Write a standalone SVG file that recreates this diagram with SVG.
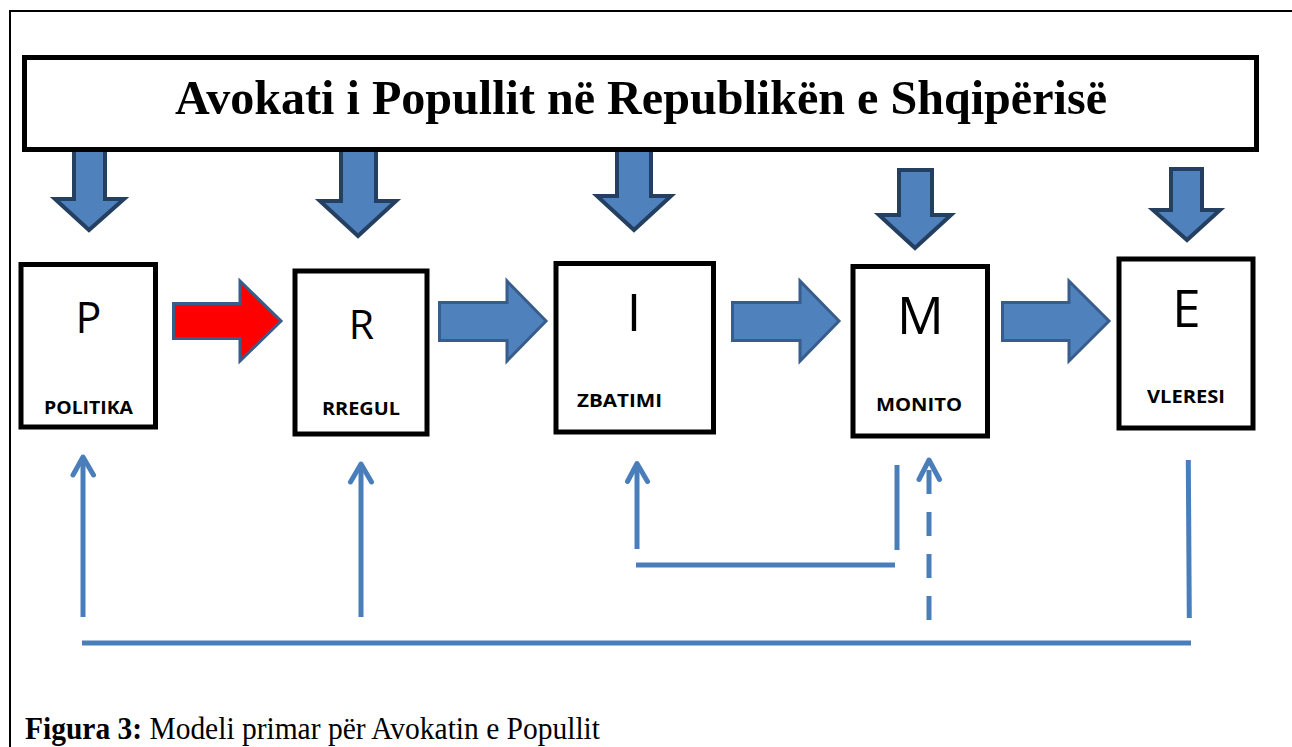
<svg xmlns="http://www.w3.org/2000/svg" width="1292" height="747" viewBox="0 0 1292 747">
<style>
.frame{fill:none;stroke:#000;stroke-width:2}
.box{fill:#fff;stroke:#000;stroke-width:5}
.down{fill:#4f81bd;stroke:#243f60;stroke-width:4;stroke-linejoin:miter}
.right{fill:#4f81bd;stroke:#385d8a;stroke-width:3}
.red{fill:#ff0000;stroke:#385d8a;stroke-width:3}
.fb{fill:none;stroke:#4a7ebb;stroke-width:5;stroke-linecap:butt}
.head{fill:none;stroke:#4a7ebb;stroke-width:5;stroke-linecap:round;stroke-linejoin:round}
.big{font-family:"Open Sans","Liberation Sans",sans-serif;fill:#000;text-anchor:middle}
.lbl{font-family:"Open Sans","Liberation Sans",sans-serif;font-weight:bold;fill:#000;font-size:18px}
.title{font-family:"Liberation Serif","Times New Roman",serif;font-weight:bold;font-size:48px;fill:#000}
.cap{font-family:"Liberation Serif","Times New Roman",serif;font-size:31px;fill:#000}
</style>
<rect width="1292" height="747" fill="#fff"/>
<path class="frame" d="M10,747 V11 H1292"/>

<g id="down-arrows">
<polygon class="down" points="74,150 105,150 105,199 124,199 89,230 55,199 74,199"/>
<polygon class="down" points="341,150 376,150 376,201 396,201 358,236 320,201 341,201"/>
<polygon class="down" points="617,150 651,150 651,196 671,196 634,230 597,196 617,196"/>
<polygon class="down" points="899,170 932,170 932,215 951,215 915,248 879,215 899,215"/>
<polygon class="down" points="1171,169 1202,169 1202,210 1220,210 1187,240 1153,210 1171,210"/>
</g>

<g id="title">
<rect class="box" x="24.5" y="57.5" width="1232" height="92"/>
<text class="title" x="175" y="114" textLength="932" lengthAdjust="spacingAndGlyphs">Avokati i Popullit në Republikën e Shqipërisë</text>
</g>

<g id="node-P">
<rect class="box" x="21" y="264.5" width="134.5" height="162.5"/>
<text class="big" x="88.5" y="333" font-size="43">P</text>
<text class="lbl" x="44" y="414" textLength="89" lengthAdjust="spacingAndGlyphs">POLITIKA</text>
</g>
<g id="node-R">
<rect class="box" x="295" y="271" width="132" height="163"/>
<text class="big" x="361.5" y="339" font-size="41">R</text>
<text class="lbl" x="322" y="415" textLength="78" lengthAdjust="spacingAndGlyphs">RREGUL</text>
</g>
<g id="node-I">
<rect class="box" x="556" y="263.5" width="157.5" height="168.5"/>
<text class="big" x="634" y="331" font-size="52">I</text>
<text class="lbl" x="577" y="407" textLength="85" lengthAdjust="spacingAndGlyphs">ZBATIMI</text>
</g>
<g id="node-M">
<rect class="box" x="853" y="266.5" width="134.5" height="169.5"/>
<text class="big" x="920.5" y="334" font-size="52">M</text>
<text class="lbl" x="876" y="411" textLength="86" lengthAdjust="spacingAndGlyphs">MONITO</text>
</g>
<g id="node-E">
<rect class="box" x="1119" y="259" width="134" height="169"/>
<text class="big" x="1186.5" y="327" font-size="51">E</text>
<text class="lbl" x="1147" y="403" textLength="78" lengthAdjust="spacingAndGlyphs">VLERESI</text>
</g>

<g id="connectors">
<polygon class="red" points="173.5,303.5 240,303.5 240,281 281,321 240,361 240,338.5 173.5,338.5"/>
<polygon class="right" points="439.5,302.5 507,302.5 507,281 546,321 507,361 507,340.5 439.5,340.5"/>
<polygon class="right" points="732.5,302.5 800,302.5 800,281 839,321 800,361 800,340.5 732.5,340.5"/>
<polygon class="right" points="1002.5,302.5 1069,302.5 1069,281 1109,321 1069,361 1069,340.5 1002.5,340.5"/>

<line class="fb" x1="83" y1="617" x2="83" y2="459"/>
<polyline class="head" points="73,475 83,457 93.5,475"/>
<line class="fb" x1="361" y1="617" x2="361" y2="466"/>
<polyline class="head" points="350.5,482 361,464 371.5,482"/>
<line class="fb" x1="637" y1="549" x2="637" y2="466"/>
<polyline class="head" points="627.5,481.5 637,463.5 647.5,481.5"/>
<line class="fb" x1="636" y1="565" x2="895" y2="565"/>
<line class="fb" x1="897" y1="465" x2="897" y2="550"/>
<line class="fb" x1="929" y1="620" x2="929" y2="462" stroke-dasharray="24 18"/>
<polyline class="head" points="919,479.5 929,460 939.5,479.5"/>
<line class="fb" x1="1188.3" y1="460" x2="1189.3" y2="618"/>
<line class="fb" x1="82" y1="643" x2="1191" y2="643"/>
</g>

<g id="caption">
<text class="cap" x="25" y="739" textLength="575" lengthAdjust="spacingAndGlyphs"><tspan font-weight="bold">Figura 3:</tspan> Modeli primar për Avokatin e Popullit</text>
</g>
</svg>
